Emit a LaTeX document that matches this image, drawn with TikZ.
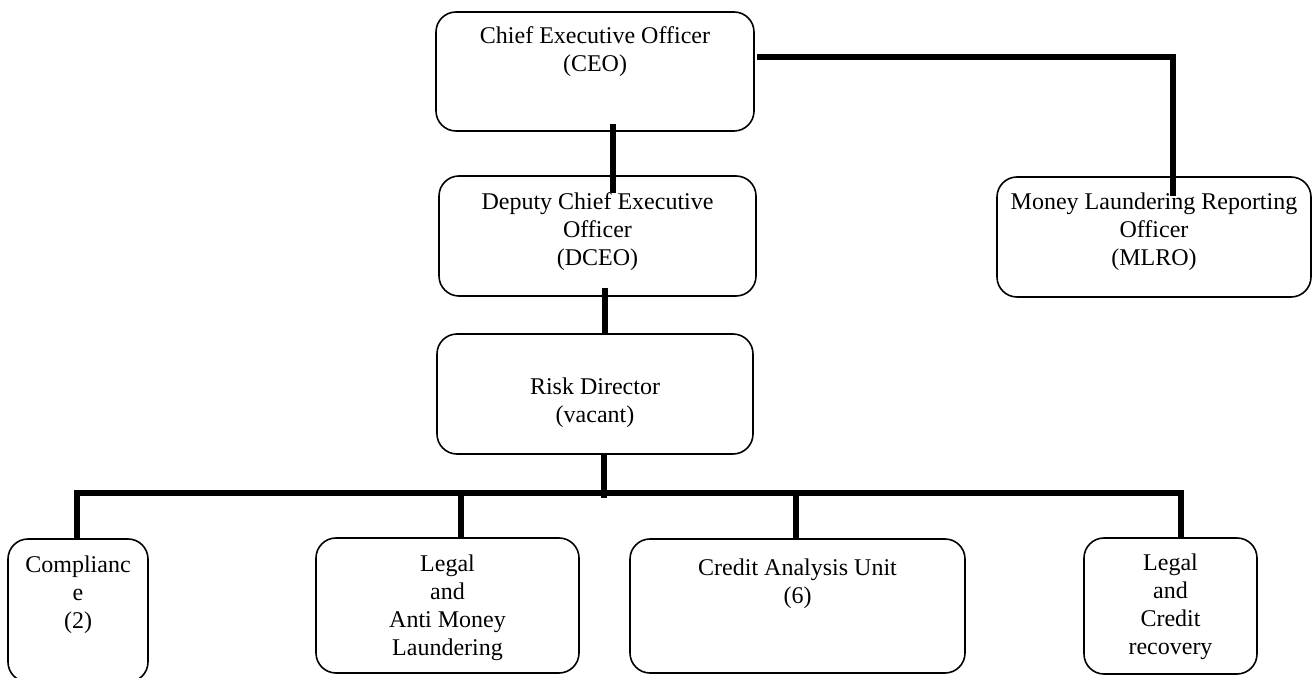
\documentclass[tikz,border=0pt]{standalone}
\usepackage{fontspec}
\setmainfont{Liberation Serif}
\usetikzlibrary{positioning,calc}
\tikzstyle{org chart}=[
    x=0.5pt, y=-0.5pt,
    unit/.style={draw, rounded corners=10pt, line width=0.8pt, inner sep=0pt},
    caption/.style={align=center, inner sep=0pt, font=\fontsize{12}{14}\selectfont},
    link/.style={line width=2.75pt},
]

\begin{document}
\begin{tikzpicture}[org chart]
        \useasboundingbox (0,0) rectangle (1312,678);

        % boxes
        \node[unit, minimum width=159pt, minimum height=59.5pt] (ceo) at (595,71.5) {};
        \node[unit, minimum width=158.5pt, minimum height=60pt] (dceo) at (597.5,236) {};
        \node[unit, minimum width=157pt, minimum height=60pt] (mlro) at (1154,237) {};
        \node[unit, minimum width=158pt, minimum height=60pt] (risk) at (595,394) {};
        \node[unit, minimum width=70pt, minimum height=71.5pt] (comp) at (78,610.5) {};
        \node[unit, minimum width=131.5pt, minimum height=67.5pt] (legal) at (447.5,605.5) {};
        \node[unit, minimum width=167.5pt, minimum height=67pt] (credit) at (797.5,606) {};
        \node[unit, minimum width=86.5pt, minimum height=68pt] (recovery) at (1170.5,606) {};

        % captions
        \node[caption, below=7.5pt of ceo.north] (ceo-t) {Chief Executive Officer\\(CEO)};
        \node[caption, below=8.5pt of dceo.north] (dceo-t) {Deputy Chief Executive\\Officer\\(DCEO)};
        \node[caption, below=8pt of mlro.north] (mlro-t) {Money Laundering Reporting\\Officer\\(MLRO)};
        \node[caption, below=22pt of risk.north] (risk-t) {Risk Director\\(vacant)};
        \node[caption, below=8.5pt of comp.north] (comp-t) {Complianc\\e\\(2)};
        \node[caption, below=8.5pt of legal.north] (legal-t) {Legal\\and\\Anti Money\\Laundering};
        \node[caption, below=10pt of credit.north] (credit-t) {Credit Analysis Unit\\(6)};
        \node[caption, below=8pt of recovery.north] (recovery-t) {Legal\\and\\Credit\\recovery};

        % connectors
        \coordinate (hub) at (604,493);
        \draw[link] ($(ceo.south)+(18,-8)$) -- ($(dceo.north)+(15.5,18)$);
        \draw[link] ($(ceo.east)+(2,-14.5)$) -| ($(mlro.north)+(19,20)$);
        \draw[link] ($(dceo.south)+(7.5,-9)$) -- ($(risk.north)+(10,0)$);
        \draw[link] ($(risk.south)+(9,-2)$) -- ($(hub)+(0,5)$);
        \draw[link] ($(comp.north)+(-1,1)$) |- (hub) -| ($(recovery.north)+(10.5,2)$);
        \draw[link] ($(legal.north)+(13.5,2)$) |- (hub);
        \draw[link] ($(credit.north)+(-1.5,2)$) |- (hub);
\end{tikzpicture}
\end{document}
